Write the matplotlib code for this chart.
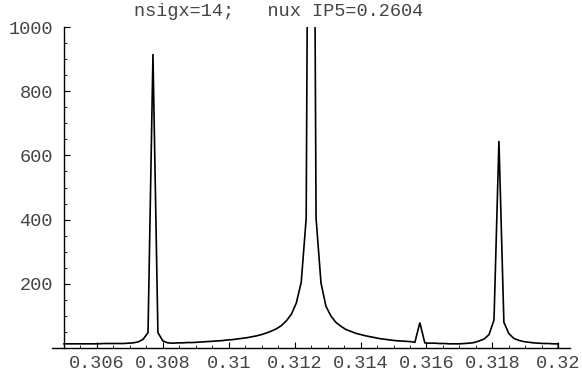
import numpy as np
import matplotlib
matplotlib.use("Agg")
import matplotlib.pyplot as plt
from matplotlib.ticker import MultipleLocator, FixedLocator, FixedFormatter

# ---- data ----
tune_start = 0.305
tune_stop = 0.32
n_points = 101
tune = np.linspace(tune_start, tune_stop, n_points)

amplitude = [
    13, 13, 13, 13, 13, 13, 13, 13, 14, 14,          # 0-9
    14, 14, 14, 15, 16, 19, 27, 48, 916, 48,         # 10-19
    22, 16, 15, 16, 16, 17, 17, 18, 19, 20,          # 20-29
    21, 22, 23, 25, 26, 28, 30, 32, 35, 38,          # 30-39
    42, 47, 53, 60, 70, 85, 105, 140, 205, 404,      # 40-49
    3400, 404, 202, 130, 100, 80, 68, 58, 52, 46,    # 50-59
    42, 38, 35, 32, 29, 27, 25, 23, 22, 21,          # 60-69
    20, 18, 79, 16, 15, 15, 14, 14, 13, 13,          # 70-79
    13, 14, 15, 17, 22, 28, 42, 87, 645, 80,         # 80-89
    45, 30, 24, 20, 18, 16, 15, 14, 14, 13,          # 90-99
    13,                                              # 100
]
end_value = 0

title_text = "nsigx=14;   nux IP5=0.2604"
x_tick_values = [0.306, 0.308, 0.310, 0.312, 0.314, 0.316, 0.318, 0.320]
x_tick_labels = ["0.306", "0.308", "0.31", "0.312", "0.314", "0.316", "0.318", "0.32"]
y_tick_values = [200, 400, 600, 800, 1000]
y_tick_labels = ["200", "400", "600", "800", "1000"]

# ---- figure ----
W, H = 582, 379
fig = plt.figure(figsize=(W / 100, H / 100), dpi=100)
font = "Liberation Mono"
fs = 13.4
text_color = "#444444"

# pixel layout
ax_left_px, ax_right_px = 51.7, 570.0
y0_px, y1000_px = 348.0, 27.0
ax = fig.add_axes([ax_left_px / W, (H - y0_px) / H,
                   (ax_right_px - ax_left_px) / W, (y0_px - y1000_px) / H])

px_per_unit = 32950.0
ax.set_xlim(tune_start - (64 - ax_left_px) / px_per_unit,
            tune_start + (ax_right_px - 64) / px_per_unit)
ax.set_ylim(0, 1000)

xs = list(tune) + [tune[-1]]
ys = list(amplitude) + [end_value]
ax.plot(xs, ys, color="black", lw=1.2, solid_joinstyle="miter")

for s in ["top", "right"]:
    ax.spines[s].set_visible(False)
ax.spines["left"].set_position(("data", tune_start))
ax.spines["left"].set_bounds(0, 1000)
ax.spines["left"].set_linewidth(1.0)
ax.spines["bottom"].set_linewidth(1.0)
ax.patch.set_visible(False)

ax.xaxis.set_major_locator(FixedLocator(x_tick_values))
ax.xaxis.set_major_formatter(FixedFormatter(x_tick_labels))
ax.xaxis.set_minor_locator(MultipleLocator(0.0005))
ax.yaxis.set_major_locator(FixedLocator(y_tick_values))
ax.yaxis.set_major_formatter(FixedFormatter(y_tick_labels))
ax.yaxis.set_minor_locator(MultipleLocator(50))

ax.tick_params(axis="both", which="major", direction="in", length=4.5, width=0.8,
               labelsize=fs, labelcolor=text_color)
ax.tick_params(axis="both", which="minor", direction="in", length=2.5, width=0.6)
ax.tick_params(axis="x", which="major", pad=5)
ax.tick_params(axis="y", which="major", pad=8)
for lab in ax.get_xticklabels() + ax.get_yticklabels():
    lab.set_fontfamily(font)

fig.text(279 / W, 1 - 11.5 / H, title_text, ha="center", va="center",
         fontsize=fs, family=font, color=text_color)

fig.savefig("out.png", dpi=100)
